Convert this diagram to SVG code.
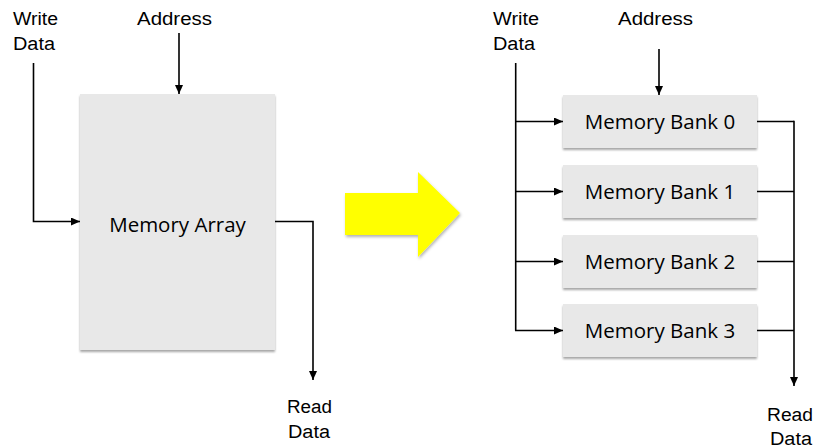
<svg xmlns="http://www.w3.org/2000/svg" width="815" height="448" viewBox="0 0 815 448">
  <style>
    .lbl { font-family: "Liberation Sans", Arial, sans-serif; font-size: 18px; fill: #000; }
    .box { fill: #e8e8e8; filter: url(#sh); }
    .btxt { font-family: "Open Sans", "Noto Sans", sans-serif; font-size: 20.5px; fill: #000; text-anchor: middle; }
    .wire { fill: none; stroke: #000; stroke-width: 1.6; }
    .arr { marker-end: url(#ah); }
  </style>
  <defs>
    <filter id="sh" x="-10%" y="-10%" width="120%" height="130%">
      <feDropShadow dx="0" dy="2" stdDeviation="1.2" flood-color="#000" flood-opacity="0.35"/>
    </filter>
    <filter id="sh2" x="-10%" y="-10%" width="130%" height="130%">
      <feDropShadow dx="1" dy="2" stdDeviation="1.5" flood-color="#000" flood-opacity="0.3"/>
    </filter>
    <marker id="ah" markerUnits="userSpaceOnUse" markerWidth="9" markerHeight="8" refX="9" refY="4" orient="auto">
      <path d="M0,0 L9,4 L0,8 Z" fill="#000"/>
    </marker>
  </defs>

  <!-- Left side -->
  <g id="lbl-write-left">
    <text class="lbl" x="13" y="25" textLength="45" lengthAdjust="spacingAndGlyphs">Write</text>
    <text class="lbl" x="13" y="50" textLength="42" lengthAdjust="spacingAndGlyphs">Data</text>
  </g>
  <g id="lbl-address-left">
    <text class="lbl" x="137" y="25" textLength="75" lengthAdjust="spacingAndGlyphs">Address</text>
  </g>
  <g id="memory-array">
    <rect class="box" x="80" y="94" width="195" height="256"/>
    <text class="btxt" x="177.5" y="232">Memory Array</text>
  </g>
  <g id="lbl-read-left">
    <text class="lbl" x="287" y="413" textLength="45" lengthAdjust="spacingAndGlyphs">Read</text>
    <text class="lbl" x="288" y="438" textLength="42" lengthAdjust="spacingAndGlyphs">Data</text>
  </g>

  <!-- Yellow transform arrow -->
  <g id="big-arrow">
    <path d="M345,193 L418,193 L418,172 L460,213 L418,257 L418,235 L345,235 Z" fill="#ffff00" filter="url(#sh2)"/>
  </g>

  <!-- Right side -->
  <g id="lbl-write-right">
    <text class="lbl" x="493" y="25" textLength="46" lengthAdjust="spacingAndGlyphs">Write</text>
    <text class="lbl" x="493" y="50" textLength="42" lengthAdjust="spacingAndGlyphs">Data</text>
  </g>
  <g id="lbl-address-right">
    <text class="lbl" x="618" y="25" textLength="75" lengthAdjust="spacingAndGlyphs">Address</text>
  </g>
  <g id="bank0">
    <rect class="box" x="563" y="95" width="194" height="53"/>
    <text class="btxt" x="660" y="128.5">Memory Bank 0</text>
  </g>
  <g id="bank1">
    <rect class="box" x="563" y="165" width="194" height="53"/>
    <text class="btxt" x="660" y="198.5">Memory Bank 1</text>
  </g>
  <g id="bank2">
    <rect class="box" x="563" y="235" width="194" height="53"/>
    <text class="btxt" x="660" y="268.5">Memory Bank 2</text>
  </g>
  <g id="bank3">
    <rect class="box" x="563" y="304" width="194" height="53"/>
    <text class="btxt" x="660" y="337.5">Memory Bank 3</text>
  </g>
  <g id="lbl-read-right">
    <text class="lbl" x="767" y="421" textLength="46" lengthAdjust="spacingAndGlyphs">Read</text>
    <text class="lbl" x="770" y="445" textLength="42" lengthAdjust="spacingAndGlyphs">Data</text>
  </g>

  <!-- Connectors -->
  <g id="connectors">
    <path class="wire arr" d="M33.5,63 L33.5,221.5 L80,221.5"/>
    <path class="wire arr" d="M179,33 L179,94"/>
    <path class="wire arr" d="M275,221.5 L313,221.5 L313,380"/>

    <path class="wire arr" d="M659,49 L659,95"/>
    <path class="wire" d="M515.7,63 L515.7,330.5"/>
    <path class="wire arr" d="M515.7,121.5 L563,121.5"/>
    <path class="wire arr" d="M515.7,191.5 L563,191.5"/>
    <path class="wire arr" d="M515.7,261.5 L563,261.5"/>
    <path class="wire arr" d="M515,330.5 L563,330.5"/>
    <path class="wire" d="M757,121.5 L794,121.5"/>
    <path class="wire" d="M757,191.5 L794,191.5"/>
    <path class="wire" d="M757,261.5 L794,261.5"/>
    <path class="wire" d="M757,330.5 L794,330.5"/>
    <path class="wire arr" d="M794,120.7 L794,386"/>
  </g>
</svg>
